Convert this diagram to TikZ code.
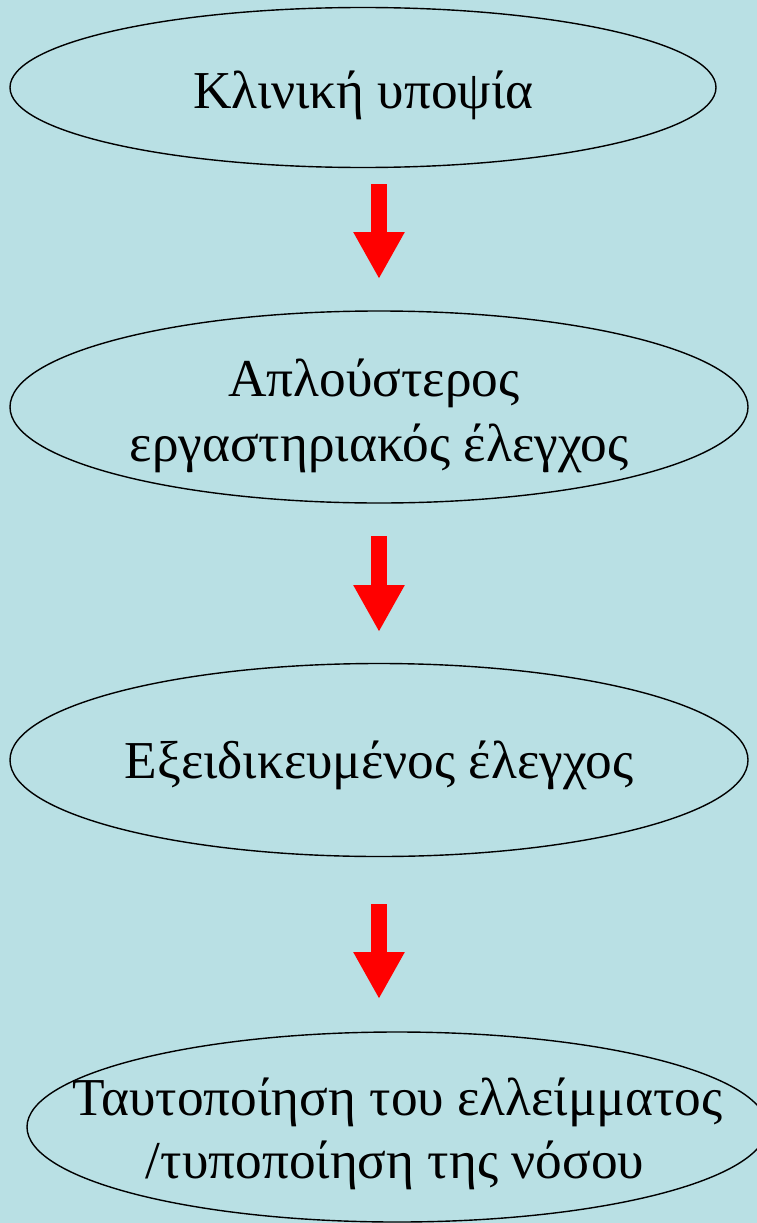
\documentclass[tikz,border=0pt]{standalone}
\usepackage{fontspec}
\setmainfont{Liberation Serif}
\usetikzlibrary{shapes.geometric,arrows.meta}
\definecolor{bgblue}{RGB}{185,224,228}
\definecolor{arrred}{RGB}{255,0,0}
\tikzset{
  oval/.style={ellipse, draw=black, line width=1.4pt, inner sep=0pt},
  txt/.style={anchor=base, inner sep=0pt, font=\fontsize{53.3}{64}\selectfont},
  blockarrow/.style={draw=arrred, line width=16pt,
    -{Triangle[width=48pt,length=47pt]}},
}
\begin{document}
\begin{tikzpicture}[x=1pt,y=-1pt]
\fill[bgblue] (0,0) rectangle (757,1223);
\useasboundingbox (0,0) rectangle (757,1223);

\node[oval, minimum width=706pt, minimum height=160pt] (e1) at (363,87.5) {};
\node[txt] (t1) at (363.5,108) {Κλινική υποψία};

\node[oval, minimum width=738pt, minimum height=192pt] (e2) at (379,407) {};
\node[txt] (t2a) at (374,396) {Απλούστερος};
\node[txt] (t2b) at (379,461) {εργαστηριακός έλεγχος};

\node[oval, minimum width=738pt, minimum height=193pt] (e3) at (379,760) {};
\node[txt] (t3) at (379,778) {Εξειδικευμένος έλεγχος};

\node[oval, minimum width=740pt, minimum height=190pt] (e4) at (397,1127) {};
\node[txt] (t4a) at (397.5,1115) {Ταυτοποίηση του ελλείμματος};
\node[txt] (t4b) at (395,1178) {/τυποποίηση της νόσου};

\coordinate (a1s) at (379,184);
\coordinate (a1e) at (379,279);
\coordinate (a2s) at (379,536);
\coordinate (a2e) at (379,632);
\coordinate (a3s) at (379,904);
\coordinate (a3e) at (379,999);

\draw[blockarrow] (a1s) -- (a1e);
\draw[blockarrow] (a2s) -- (a2e);
\draw[blockarrow] (a3s) -- (a3e);
\end{tikzpicture}
\end{document}
